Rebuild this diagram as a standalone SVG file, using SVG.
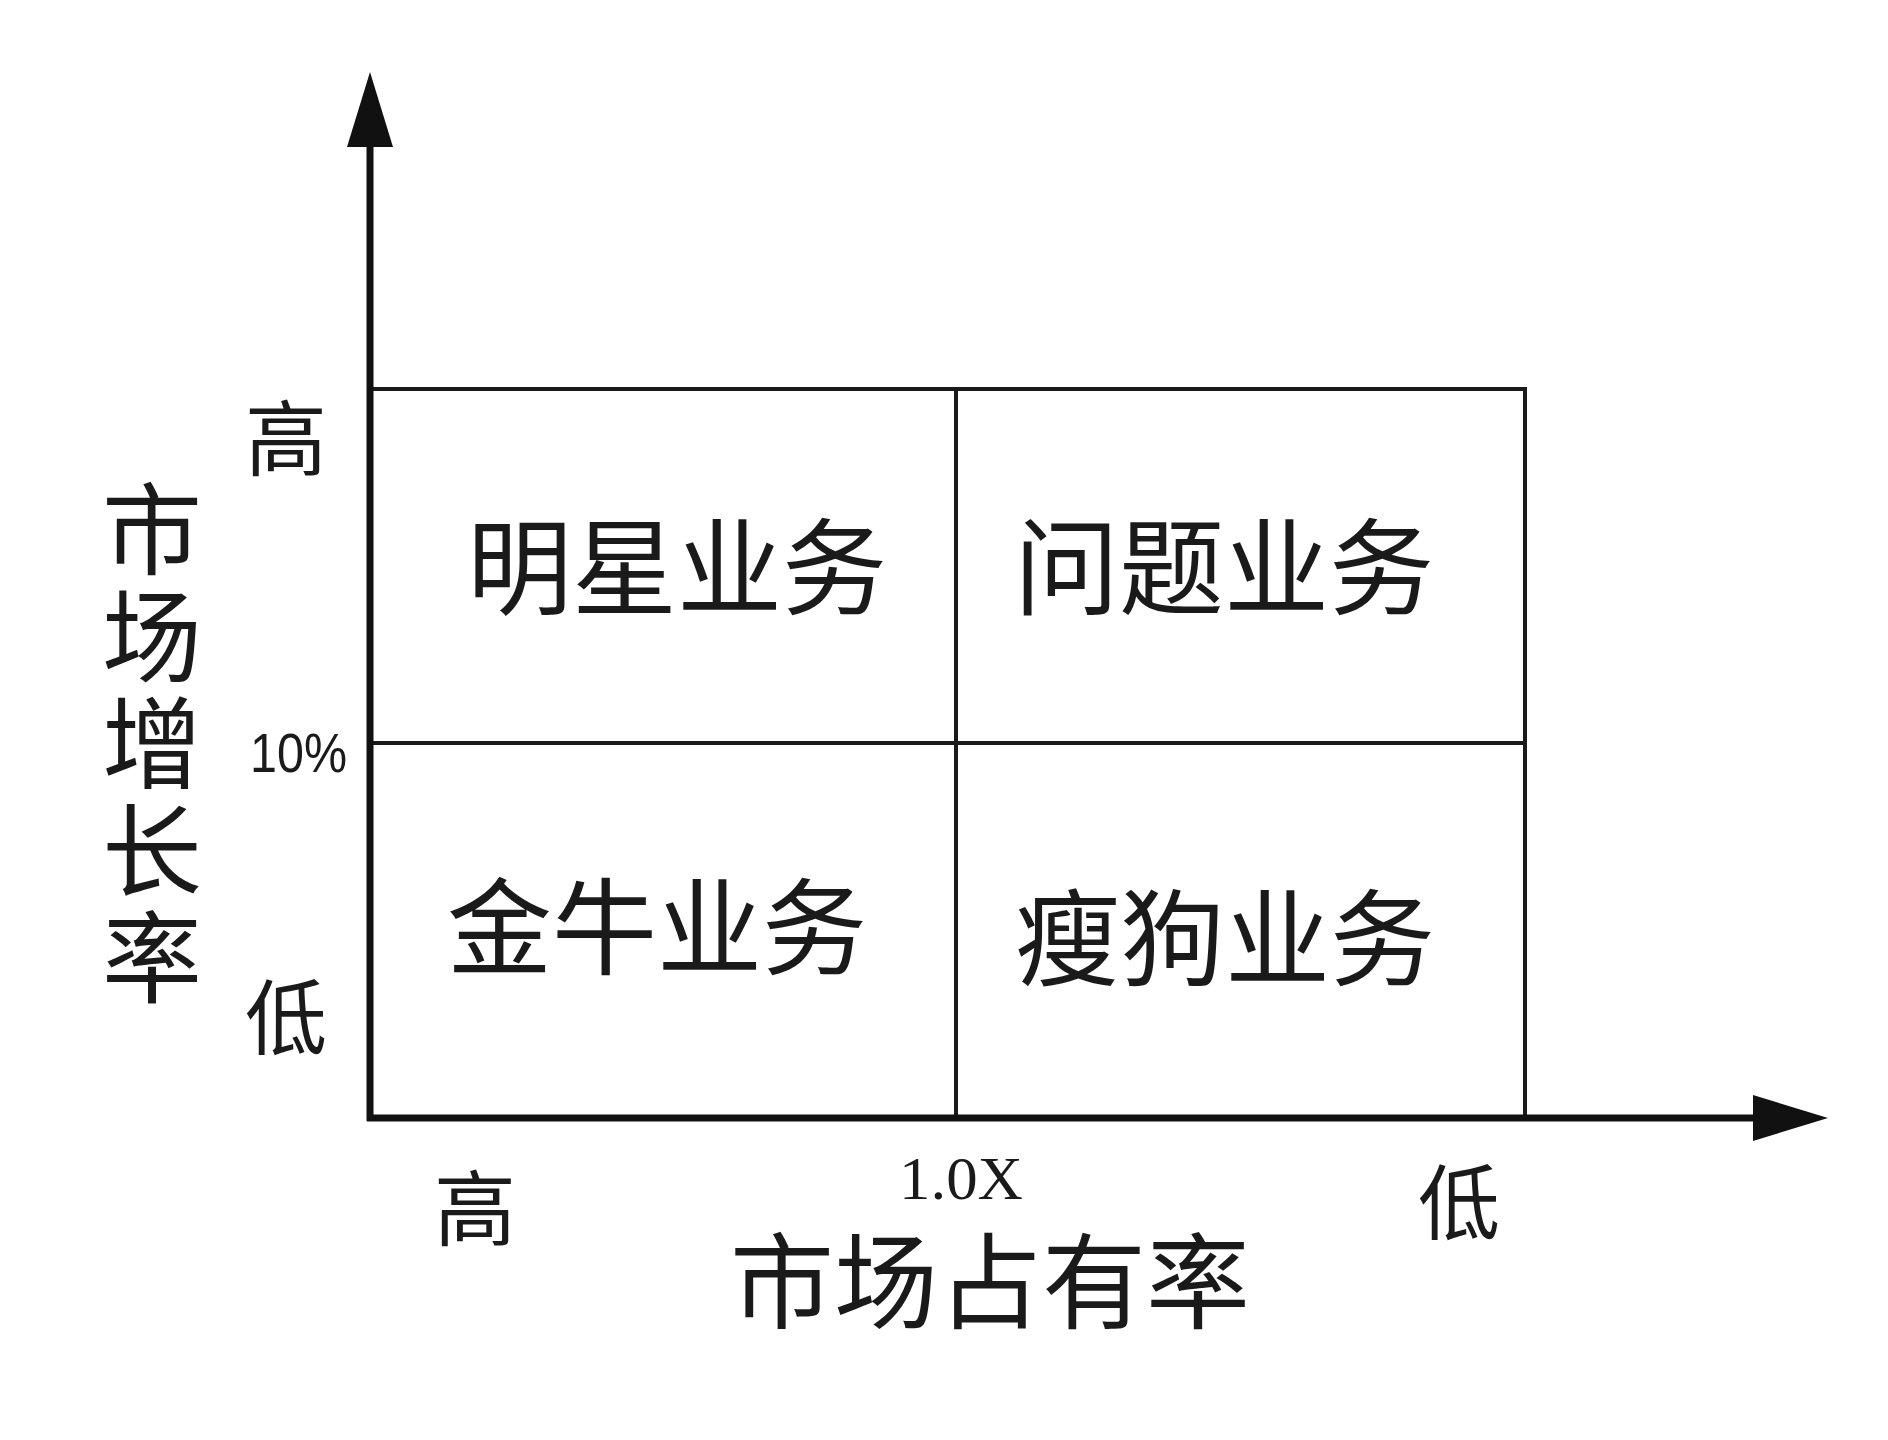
<svg xmlns="http://www.w3.org/2000/svg" width="1888" height="1440" viewBox="0 0 1888 1440">
<style>
.cjk{font-family:"Noto Sans CJK SC","Noto Sans CJK JP",sans-serif;fill:#1a1a1a}
.q{font-size:105px;text-anchor:middle}
.tick{font-size:82px;text-anchor:middle}
.grid{stroke:#1a1a1a;stroke-width:4;fill:none}
.axis{stroke:#111;stroke-width:7;fill:none}
</style>
<defs>
<marker id="arrow" viewBox="0 0 75 46" refX="0" refY="23" markerWidth="75" markerHeight="46" markerUnits="userSpaceOnUse" orient="auto">
<path d="M0,0 L75,23 L0,46 Z" fill="#111"/>
</marker>
</defs>
<rect width="1888" height="1440" fill="#fff"/>
<g id="grid">
<path class="grid" d="M370 389 H1525 V1118"/>
<line class="grid" x1="370" y1="743" x2="1525" y2="743"/>
<line class="grid" x1="956" y1="389" x2="956" y2="1118"/>
</g>
<g id="connectors">
<line class="axis" x1="370" y1="1121" x2="370" y2="147" marker-end="url(#arrow)"/>
<line class="axis" x1="367" y1="1118" x2="1753" y2="1118" marker-end="url(#arrow)"/>
</g>
<g id="star"><text class="cjk q" x="677" y="606">明星业务</text></g>
<g id="question"><text class="cjk q" x="1224" y="606">问题业务</text></g>
<g id="cashcow"><text class="cjk q" x="657" y="966">金牛业务</text></g>
<g id="dog"><text class="cjk q" x="1225" y="977">瘦狗业务</text></g>
<g id="y-axis-label"><text class="cjk" x="152" y="479" font-size="100" writing-mode="vertical-rl" letter-spacing="7">市场增长率</text></g>
<g id="y-ticks">
<text class="cjk tick" x="286" y="469">高</text>
<text x="250" y="772" font-family="Liberation Sans, sans-serif" font-size="56" fill="#1a1a1a" textLength="97" lengthAdjust="spacingAndGlyphs">10%</text>
<text class="cjk tick" x="286" y="1048">低</text>
</g>
<g id="x-ticks">
<text class="cjk tick" x="475" y="1239">高</text>
<text x="961" y="1199" font-family="Liberation Serif, serif" font-size="62" fill="#1a1a1a" text-anchor="middle" textLength="124" lengthAdjust="spacingAndGlyphs">1.0X</text>
<text class="cjk tick" x="1459" y="1233">低</text>
</g>
<g id="x-axis-label"><text class="cjk" x="990" y="1321" font-size="104" text-anchor="middle">市场占有率</text></g>
</svg>
